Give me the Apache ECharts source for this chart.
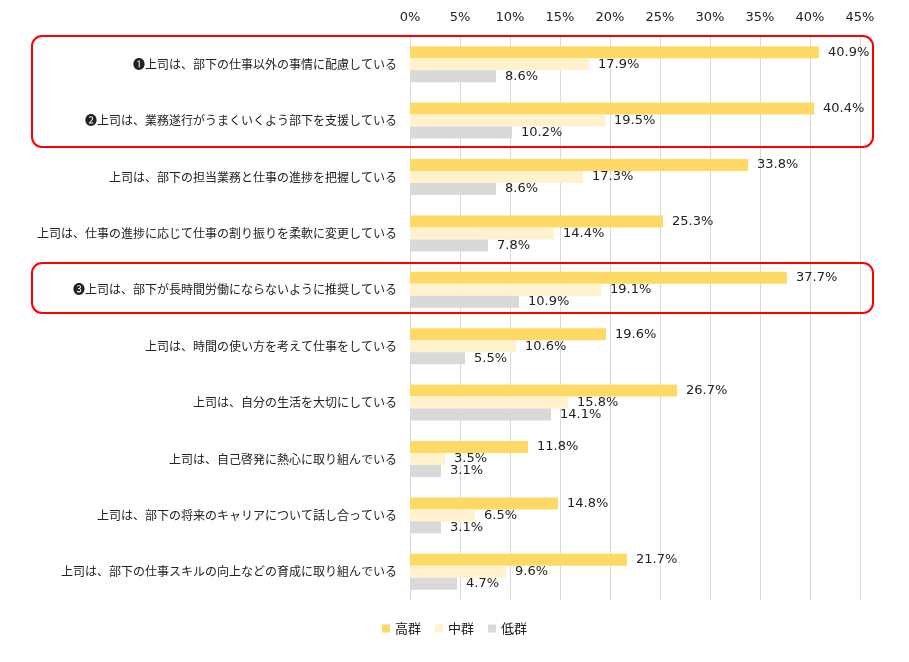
<!DOCTYPE html>
<html>
<head>
<meta charset="utf-8">
<script src="https://cdn.jsdelivr.net/npm/echarts@6/dist/echarts.min.js"></script>
<style>
html,body{margin:0;padding:0;background:#fff;}
#main{width:909px;height:662px;}
</style>
</head>
<body>
<div id="main"></div>
<script>
'use strict';

// 項目（上から順）
var categories=[
    '❶上司は、部下の仕事以外の事情に配慮している',
    '❷上司は、業務遂行がうまくいくよう部下を支援している',
    '上司は、部下の担当業務と仕事の進捗を把握している',
    '上司は、仕事の進捗に応じて仕事の割り振りを柔軟に変更している',
    '❸上司は、部下が長時間労働にならないように推奨している',
    '上司は、時間の使い方を考えて仕事をしている',
    '上司は、自分の生活を大切にしている',
    '上司は、自己啓発に熱心に取り組んでいる',
    '上司は、部下の将来のキャリアについて話し合っている',
    '上司は、部下の仕事スキルの向上などの育成に取り組んでいる'
];
var seriesNames=['高群','中群','低群'];
var highValues=[40.9,40.4,33.8,25.3,37.7,19.6,26.7,11.8,14.8,21.7];
var midValues=[17.9,19.5,17.3,14.4,19.1,10.6,15.8,3.5,6.5,9.6];
var lowValues=[8.6,10.2,8.6,7.8,10.9,5.5,14.1,3.1,3.1,4.7];

var COLORS=['#FFD966','#FFF2CC','#D9D9D9'];
var FONT='"Noto Sans CJK JP", "Noto Sans", sans-serif';
var NUM_FONT='"DejaVu Sans", sans-serif';//数字はVerdana風

function makeSeries(name,data,color){
    return {
        name:name,
        type:'bar',
        data:data,
        barWidth:12,
        barGap:'0%',
        itemStyle:{color:color},
        label:{
            show:true,
            position:'right',
            distance:9,
            color:'#222',
            fontSize:13,
            fontFamily:NUM_FONT,
            formatter:function(p){return p.value.toFixed(1)+'%';}
        }
    };
}

var chart=echarts.init(document.getElementById('main'));
chart.setOption({
    animation:false,
    textStyle:{fontFamily:FONT},
    grid:{left:410,right:49,top:36,bottom:62,containLabel:false},
    legend:{
        bottom:22,
        left:'center',
        itemWidth:8,
        itemHeight:8,
        itemGap:14,
        icon:'rect',
        textStyle:{fontSize:13,color:'#222',fontFamily:FONT},
        data:seriesNames
    },
    xAxis:{
        type:'value',
        position:'top',
        min:0,
        max:45,
        interval:5,
        axisLine:{show:false},
        axisTick:{show:false},
        axisLabel:{formatter:'{value}%',fontSize:13,color:'#222',margin:12,fontFamily:NUM_FONT},
        splitLine:{show:true,lineStyle:{color:'#D9D9D9',width:1}}
    },
    yAxis:{
        type:'category',
        inverse:true,
        data:categories,
        axisLine:{show:false},
        axisTick:{show:false},
        axisLabel:{fontSize:12,color:'#222',margin:13,fontFamily:FONT}
    },
    series:[
        makeSeries(seriesNames[0],highValues,COLORS[0]),
        makeSeries(seriesNames[1],midValues,COLORS[1]),
        makeSeries(seriesNames[2],lowValues,COLORS[2])
    ],
    graphic:[
        {type:'rect',shape:{x:32,y:36,width:841,height:111,r:10},style:{fill:'none',stroke:'#FF0000',lineWidth:2},z:100},
        {type:'rect',shape:{x:32,y:263,width:841,height:50,r:10},style:{fill:'none',stroke:'#FF0000',lineWidth:2},z:100}
    ]
});
</script>
</body>
</html>
